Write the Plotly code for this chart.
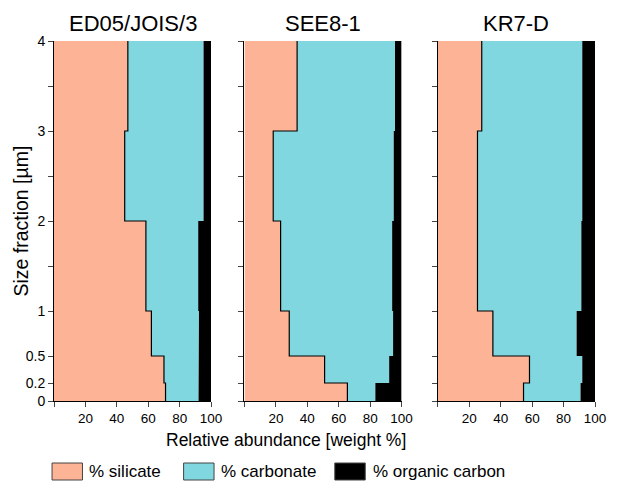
import plotly.graph_objects as go

# Size-fraction interval boundaries (µm), bottom to top
size_edges = [0, 0.2, 0.5, 1, 2, 3, 4]

titles = ["ED05/JOIS/3", "SEE8-1", "KR7-D"]

# Percent values per interval (0-0.2, 0.2-0.5, 0.5-1, 1-2, 2-3, 3-4)
silicate_ed05 = [71, 70, 62, 58.5, 45, 47]
carbonate_ed05 = [21, 22, 30.3, 33.3, 50.2, 48.2]
organic_ed05 = [8, 8, 7.7, 8.2, 4.8, 4.8]

silicate_see8 = [65.5, 51, 28.5, 23, 18.3, 33.5]
carbonate_see8 = [17.8, 41.1, 66.1, 71, 76.7, 62.3]
organic_see8 = [16.7, 7.9, 5.4, 6, 5, 4.2]

silicate_kr7 = [54.5, 58.3, 35, 25.2, 25.2, 27.9]
carbonate_kr7 = [36.3, 33.6, 53.3, 66.1, 66.7, 64]
organic_kr7 = [9.2, 8.1, 11.7, 8.7, 8.1, 8.1]

series_names = ["% silicate", "% carbonate", "% organic carbon"]
colors = ["#FDB396", "#80D7DF", "#000000"]

y_tickvals = [0, 0.2, 0.5, 1, 1.5, 2, 2.5, 3, 3.5, 4]
y_ticktext = ["0", "0.2", "0.5", "1", "", "2", "", "3", "", "4"]
x_tickvals = [0, 20, 40, 60, 80, 100]
x_ticktext = ["", "20", "40", "60", "80", "100"]

panels = [
    (silicate_ed05, carbonate_ed05, organic_ed05),
    (silicate_see8, carbonate_see8, organic_see8),
    (silicate_kr7, carbonate_kr7, organic_kr7),
]


def step(values):
    xs, ys = [], []
    for i, v in enumerate(values):
        xs += [v, v]
        ys += [size_edges[i], size_edges[i + 1]]
    return xs, ys


OFF = 8  # page body margin
W, H = 618 - OFF, 484 - OFF
top_px, bot_px = 41 - OFF, 401 - OFF
ml = 54 - OFF
mr = 13
mt, mb = top_px, H - bot_px
pw = W - ml - mr
ph = H - mt - mb
px_domains = [(54, 214), (248, 408), (445, 605)]
domains = [((a - OFF - ml) / pw, (b - OFF - ml) / pw) for a, b in px_domains]

fig = go.Figure()
FONT = "Liberation Sans, Arial, sans-serif"

for p, (sil, carb, org) in enumerate(panels):
    xa = "x" if p == 0 else f"x{p+1}"
    ya = "y" if p == 0 else f"y{p+1}"
    c1 = list(sil)
    c2 = [s + c for s, c in zip(sil, carb)]
    c3 = [s + c + o for s, c, o in zip(sil, carb, org)]
    cums = [c1, c2, c3]
    for k in range(3):
        xs, ys = step(cums[k])
        fig.add_trace(go.Scatter(
            x=xs, y=ys, mode="lines",
            line=dict(color="black", width=1.2 if k == 0 else 0),
            fill="tozerox" if k == 0 else "tonextx",
            fillcolor=colors[k],
            name=series_names[k], showlegend=False,
            xaxis=xa, yaxis=ya, hoverinfo="skip",
        ))

layout = dict(
    width=W, height=H,
    margin=dict(l=ml, r=mr, t=mt, b=mb),
    plot_bgcolor="white", paper_bgcolor="white",
    font=dict(family=FONT, size=12, color="black"),
    showlegend=False,
)
for p in range(3):
    xk = "xaxis" if p == 0 else f"xaxis{p+1}"
    yk = "yaxis" if p == 0 else f"yaxis{p+1}"
    layout[xk] = dict(
        domain=list(domains[p]), range=[0, 100], anchor="y" if p == 0 else f"y{p+1}",
        tickvals=x_tickvals, ticktext=x_ticktext, ticks="outside", ticklen=5,
        showline=True, linecolor="black", linewidth=1, showgrid=False, zeroline=False,
        tickfont=dict(size=13.5),
    )
    layout[yk] = dict(
        domain=[0, 1], range=[0, 4], anchor="x" if p == 0 else f"x{p+1}",
        tickvals=y_tickvals, ticktext=y_ticktext if p == 0 else [""] * len(y_tickvals),
        ticks="outside", ticklen=5, showline=True, linecolor="black", linewidth=1,
        showgrid=False, zeroline=False, tickfont=dict(size=14),
    )
fig.update_layout(**layout)


def px_to_paper_x(x):
    return (x - OFF - ml) / pw


def px_to_paper_y(y):
    return (bot_px - (y - OFF)) / ph


ann = []
for p in range(3):
    ann.append(dict(
        text=titles[p], x=(domains[p][0] + domains[p][1]) / 2, y=px_to_paper_y(23.5),
        xref="paper", yref="paper",
        xanchor="center", yanchor="middle", showarrow=False, font=dict(size=22),
    ))
ann.append(dict(text="Size fraction [µm]", x=px_to_paper_x(20), y=0.5, xref="paper", yref="paper",
                xanchor="center", yanchor="middle", textangle=-90,
                showarrow=False, font=dict(size=19.5)))
ann.append(dict(text="Relative abundance [weight %]", x=px_to_paper_x(290), y=px_to_paper_y(440),
                xref="paper", yref="paper", xanchor="center", yanchor="middle",
                showarrow=False, font=dict(size=17.5)))

# legend drawn as boxes + labels below the plot
legend_px = [(52, 88), (186, 222), (340, 377)]
shapes = []
for k, (bx, tx) in enumerate(legend_px):
    shapes.append(dict(type="rect", xref="paper", yref="paper",
                       x0=px_to_paper_x(bx), x1=px_to_paper_x(bx + 31),
                       y0=px_to_paper_y(480), y1=px_to_paper_y(463),
                       fillcolor=colors[k], line=dict(color="#444", width=1)))
    ann.append(dict(text=series_names[k], x=px_to_paper_x(tx), y=px_to_paper_y(471.5),
                    xref="paper", yref="paper", xanchor="left", yanchor="middle",
                    showarrow=False, font=dict(size=17)))
fig.update_layout(annotations=ann, shapes=shapes)

fig.write_html("out.html")
